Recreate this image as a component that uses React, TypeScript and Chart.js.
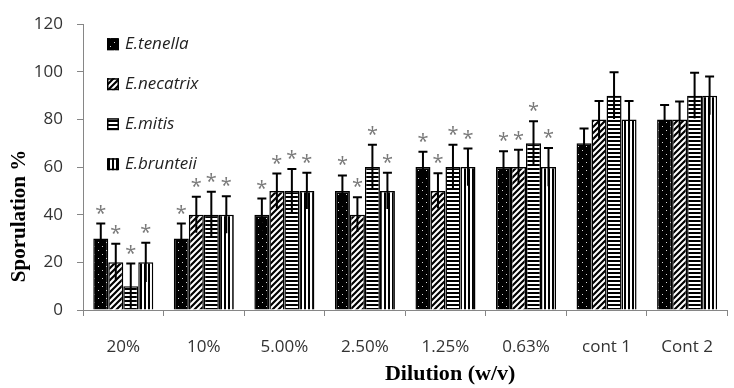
import React, { useEffect, useRef } from 'react';
import { Chart, registerables } from 'chart.js';
Chart.register(...registerables);

const categories = ['20%', '10%', '5.00%', '2.50%', '1.25%', '0.63%', 'cont 1', 'Cont 2'];
const seriesNames = ['E.tenella', 'E.necatrix', 'E.mitis', 'E.brunteii'];
const tenella = [30, 30, 40, 50, 60, 60, 70, 80];
const necatrix = [20, 40, 50, 40, 50, 60, 80, 80];
const mitis = [10, 40, 50, 60, 60, 70, 90, 90];
const brunteii = [20, 40, 50, 50, 60, 60, 80, 90];
const tenellaErr = [6.3, 6.3, 6.8, 6.5, 6.4, 6.7, 6.2, 6.1];
const necatrixErr = [7.8, 7.6, 7.3, 7.3, 7.4, 7.3, 7.8, 7.5];
const mitisErr = [9.5, 9.7, 9.2, 9.4, 9.4, 9.2, 9.8, 9.6];
const brunteiiErr = [8.2, 7.8, 7.6, 7.6, 7.8, 8.0, 7.8, 8.0];
const starred = [true, true, true, true, true, true, false, false];
const yTicks = [0, 20, 40, 60, 80, 100, 120];
const xTitle = 'Dilution (w/v)';
const yTitle = 'Sporulation %';

const seriesValues = [tenella, necatrix, mitis, brunteii];
const seriesErrors = [tenellaErr, necatrixErr, mitisErr, brunteiiErr];

function makePattern(kind: number): CanvasPattern | string {
  const c = document.createElement('canvas');
  const g = c.getContext('2d')!;
  if (kind === 0) {
    c.width = 8; c.height = 8;
    g.fillStyle = '#000'; g.fillRect(0, 0, 8, 8);
    g.fillStyle = '#d8d8d8';
    g.fillRect(2, 2, 1, 1);
    g.fillRect(6, 6, 1, 1);
  } else if (kind === 1) {
    c.width = 6; c.height = 6;
    g.fillStyle = '#fff'; g.fillRect(0, 0, 6, 6);
    g.strokeStyle = '#000'; g.lineWidth = 2.2;
    g.beginPath();
    for (let k = -2; k <= 2; k++) {
      g.moveTo(k * 6 - 1, 7);
      g.lineTo(k * 6 + 7, -1);
    }
    g.stroke();
  } else if (kind === 2) {
    c.width = 4; c.height = 4;
    g.fillStyle = '#fff'; g.fillRect(0, 0, 4, 4);
    g.fillStyle = '#000'; g.fillRect(0, 0, 4, 2);
  } else {
    c.width = 4; c.height = 4;
    g.fillStyle = '#fff'; g.fillRect(0, 0, 4, 4);
    g.fillStyle = '#000'; g.fillRect(0, 0, 2, 4);
  }
  return g.createPattern(c, 'repeat') || '#000';
}

export default function App() {
  const ref = useRef<HTMLCanvasElement | null>(null);

  useEffect(() => {
    document.body.style.margin = '0';
    const canvas = ref.current!;
    const patterns = [0, 1, 2, 3].map(makePattern);

    const overlay = {
      id: 'overlay',
      afterDatasetsDraw(chart: any) {
        const ctx = chart.ctx as CanvasRenderingContext2D;
        const ys = chart.scales.y;
        chart.data.datasets.forEach((ds: any, di: number) => {
          const meta = chart.getDatasetMeta(di);
          meta.data.forEach((bar: any, i: number) => {
            const v = ds.data[i];
            const e = seriesErrors[di][i];
            const x = bar.x;
            const top = ys.getPixelForValue(v + e);
            const bot = ys.getPixelForValue(v - e);
            ctx.save();
            ctx.strokeStyle = '#000';
            ctx.lineWidth = 2;
            ctx.beginPath();
            ctx.moveTo(x, bot);
            ctx.lineTo(x, top);
            ctx.moveTo(x - 4.5, top);
            ctx.lineTo(x + 4.5, top);
            ctx.stroke();
            if (starred[i]) {
              ctx.fillStyle = '#7a7a7a';
              ctx.font = '20px "Open Sans"';
              ctx.textAlign = 'center';
              ctx.textBaseline = 'alphabetic';
              ctx.fillText('*', x, top - 4);
            }
            ctx.restore();
          });
        });
      },
      afterDraw(chart: any) {
        const ctx = chart.ctx as CanvasRenderingContext2D;
        const area = chart.chartArea;
        ctx.save();
        // legend
        seriesNames.forEach((name, i) => {
          const cy = area.top + 20 + i * 40;
          const bx = area.left + 24;
          ctx.fillStyle = patterns[i] as any;
          ctx.fillRect(bx, cy - 6, 12, 12);
          ctx.strokeStyle = '#000';
          ctx.lineWidth = 1.5;
          ctx.strokeRect(bx + 0.75, cy - 5.25, 10.5, 10.5);
          ctx.fillStyle = '#222';
          ctx.font = 'italic 17px "Open Sans"';
          ctx.textAlign = 'left';
          ctx.textBaseline = 'middle';
          ctx.fillText(name, bx + 18, cy);
        });
        // axis titles
        ctx.fillStyle = '#000';
        ctx.font = 'bold 21px "Liberation Serif"';
        ctx.textAlign = 'center';
        ctx.textBaseline = 'middle';
        ctx.save();
        ctx.translate(area.left + (area.right - area.left) / 2 + 45, 375);
        ctx.scale(1.05, 1);
        ctx.fillText(xTitle, 0, 0);
        ctx.restore();
        ctx.translate(20, 216);
        ctx.rotate(-Math.PI / 2);
        ctx.fillText(yTitle, 0, 0);
        ctx.restore();
      },
    };

    const chart = new Chart(canvas, {
      type: 'bar',
      data: {
        labels: categories,
        datasets: seriesValues.map((vals, i) => ({
          label: seriesNames[i],
          data: vals,
          backgroundColor: patterns[i] as any,
          borderColor: '#000',
          borderWidth: 1.5,
          categoryPercentage: 0.745,
          barPercentage: 1.0,
        })),
      },
      options: {
        responsive: false,
        animation: false,
        devicePixelRatio: 1,
        layout: { padding: { top: 16, right: 2, left: 0, bottom: 0 } },
        plugins: {
          legend: { display: false },
          tooltip: { enabled: false },
        },
        scales: {
          x: {
            grid: {
              display: true,
              drawOnChartArea: false,
              drawTicks: true,
              tickLength: 6,
              color: '#868686',
            },
            border: { display: true, color: '#868686', width: 1 },
            ticks: {
              color: '#333',
              font: { family: '"Open Sans"', size: 17 },
              padding: 21,
              maxRotation: 0,
              autoSkip: false,
            },
            afterFit: (s: any) => { s.height = 78; },
          },
          y: {
            min: 0,
            max: 120,
            afterBuildTicks: (s: any) => { s.ticks = yTicks.map((v) => ({ value: v })); },
            grid: {
              display: true,
              drawOnChartArea: false,
              drawTicks: true,
              tickLength: 6,
              color: '#868686',
            },
            border: { display: true, color: '#868686', width: 1 },
            ticks: {
              color: '#333',
              font: { family: '"Open Sans"', size: 17 },
              padding: 14,
            },
            afterFit: (s: any) => { s.width = 83; },
          },
        },
      },
      plugins: [overlay],
    });
    return () => chart.destroy();
  }, []);

  return (
    <div style={{ width: 734, height: 388 }}>
      <canvas ref={ref} width={734} height={388} />
    </div>
  );
}
